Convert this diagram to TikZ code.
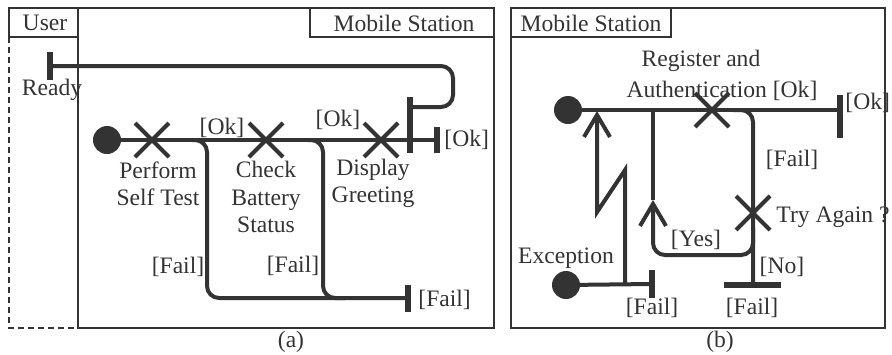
\documentclass[tikz,border=0pt]{standalone}
\usepackage{fontspec}
\setmainfont{Liberation Serif}
\usetikzlibrary{shapes.misc,arrows.meta}
\definecolor{ink}{gray}{0.2}
\begin{document}
\begin{tikzpicture}[x=0.5pt,y=-0.5pt,
  flow/.style={draw=ink, line width=2pt, rounded corners=6pt},
  bolt/.style={draw=ink, line width=2pt, line join=miter},
  frame/.style={draw=ink, line width=0.9pt},
  lbl/.style={font=\fontsize{11.8}{13.6}\selectfont, text=ink, inner sep=0pt, align=center},
  xmark/.style={cross out, draw=ink, line width=2pt, minimum width=15pt, minimum height=15pt, inner sep=0pt},
  startdot/.style={circle, fill=ink, minimum size=14pt, inner sep=0pt},
  vbar/.style={fill=ink, minimum width=2.6pt, inner sep=0pt},
  hbar/.style={fill=ink, minimum height=2.6pt, inner sep=0pt},
  barb/.style={-{Straight Barb[length=11pt,width=13pt]}},
]
\useasboundingbox (0,0) rectangle (892,354);

% ---------------- panel (a) ----------------
\draw[frame] (78,8) rectangle (494,328);
\draw[frame] (310,8) rectangle (494,37);
\node[lbl] (msa) at (404,23) {Mobile Station};
\draw[frame] (9,8) rectangle (78,37);
\node[lbl] (user) at (45,23) {User};
\draw[frame, dash pattern=on 3pt off 2pt] (9,37) -- (9,328) -- (78,328);

\node[vbar, minimum height=14pt] (ready) at (50,66) {};
\node[lbl] (readyl) at (52,90) {Ready};
\node[vbar, minimum height=28pt] (sync) at (410,125) {};
\coordinate (syncin) at (410,107);
\draw[flow] (ready.center) -- (453,66) -- (453,107) -- (syncin);

\node[startdot] (s1) at (107,140) {};
\node[vbar, minimum height=13pt] (okend) at (437,140) {};
\node[xmark] (x1) at (152,140) {};
\node[xmark] (x2) at (266,140) {};
\node[xmark] (x3) at (381,140) {};
\draw[flow] (s1.center) -- (okend.center);

\node[vbar, minimum height=13.5pt] (failend) at (408,298) {};
\coordinate (b1) at (192,140);
\coordinate (b2) at (308,140);
\draw[flow] (b1) -- (207,140) -- (207,298) -- (failend.center);
\draw[flow] (b2) -- (323,140) -- (323,298) -- (345,298);

\node[lbl] (ok1) at (222,128) {[Ok]};
\node[lbl] (ok2) at (338,120) {[Ok]};
\node[lbl, anchor=west] (ok3) at (444,140) {[Ok]};
\node[lbl] (f1) at (178,267) {[Fail]};
\node[lbl] (f2) at (293,266) {[Fail]};
\node[lbl, anchor=west] (f3) at (418,300) {[Fail]};
\node[lbl] (pst) at (158,184) {Perform\\Self Test};
\node[lbl] (cbs) at (266,197) {Check\\Battery\\Status};
\node[lbl] (dg) at (373,183) {Display\\Greeting};
\node[lbl] (capa) at (291,342) {(a)};

% ---------------- panel (b) ----------------
\draw[frame] (511,8) rectangle (885,328);
\draw[frame] (511,8) rectangle (671,37);
\node[lbl] (msb) at (591,23) {Mobile Station};

\node[startdot] (s2) at (568,110) {};
\node[vbar, minimum height=21.5pt] (okb) at (840,116) {};
\coordinate (okin) at (840,110);
\node[xmark] (xr) at (712,110) {};
\draw[flow] (s2.center) -- (okin);
\node[lbl] (reg1) at (701,61) {Register and};
\node[lbl] (reg2) at (722,91) {Authentication [Ok]};
\node[lbl, anchor=west] (okl) at (845,103) {[Ok]};

\node[hbar, minimum width=28.5pt] (nobar) at (752,285) {};
\node[xmark] (xt) at (753,213) {};
\coordinate (fb) at (733,110);
\draw[flow] (fb) -- (753,110) -- (753,285);
\node[lbl] (fl) at (792,160) {[Fail]};
\node[lbl, anchor=west] (try) at (776,217) {Try Again ?};
\node[lbl] (no) at (782,267) {[No]};
\node[lbl] (fl2) at (752,308) {[Fail]};

\coordinate (yesout) at (753,228);
\coordinate (yesarr) at (653,200);
\coordinate (yesin) at (653,110);
\draw[flow, barb] (yesout) -- (753,255) -- (653,255) -- (yesarr);
\draw[flow] (yesarr) -- (yesin);
\node[lbl] (yes) at (696,240) {[Yes]};

\node[startdot] (ex) at (566,285) {};
\node[vbar, minimum height=14pt] (exbar) at (652,284) {};
\draw[flow] (ex.center) -- (exbar.center);
\node[lbl] (exl) at (566,258) {Exception};
\node[lbl] (fl3) at (652,308) {[Fail]};
\coordinate (bolt0) at (625,285);
\coordinate (boltend) at (597,111);
\draw[bolt, barb] (bolt0) -- (625,170) -- (597,212) -- (boltend);

\node[lbl] (capb) at (720,342) {(b)};
\end{tikzpicture}
\end{document}
